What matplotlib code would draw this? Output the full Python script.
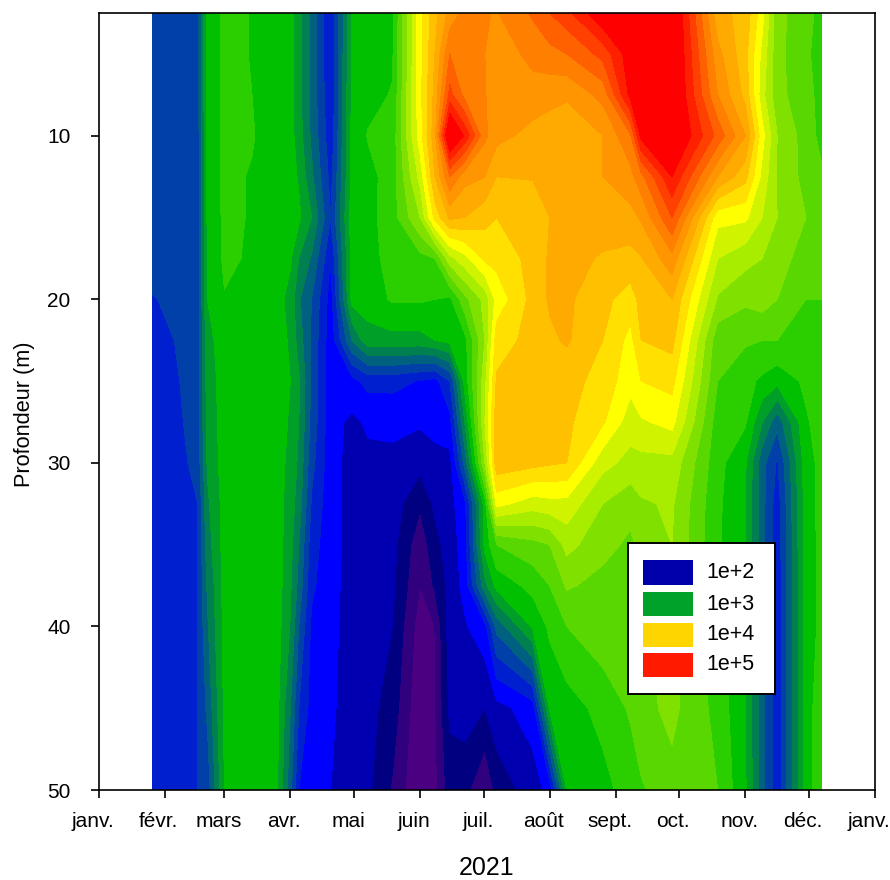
import numpy as np
import matplotlib
matplotlib.use('Agg')
import matplotlib.pyplot as plt
from matplotlib.patches import Rectangle
from matplotlib.transforms import ScaledTranslation

plt.rcParams['font.family'] = ['Liberation Sans', 'DejaVu Sans']

# sampling days (day of year 2021) and depths (m)
days = [25, 38, 46.5, 51, 59, 72, 84, 90, 94, 100, 109, 119, 126.5, 138, 151, 158, 165, 172,
        181.5, 187, 204, 212, 220, 237, 250, 255, 269.5, 291, 304, 312, 319, 332.5, 340]
depths = [2.5, 5, 7.5, 10, 12.5, 15, 17.5, 20, 22.5, 25, 27.5, 30, 32.5, 35, 37.5, 40, 45, 50]

# log10 abundance, one list per sampling day, top to bottom
d025 = [2.38, 2.38, 2.38, 2.38, 2.38, 2.38, 2.36, 2.29, 2.26, 2.24, 2.22, 2.22, 2.22, 2.22, 2.22, 2.22, 2.22, 2.22]
d038 = [2.36, 2.36, 2.36, 2.36, 2.36, 2.36, 2.36, 2.34, 2.31, 2.30, 2.28, 2.25, 2.24, 2.24, 2.24, 2.24, 2.24, 2.24]
d046 = [2.40, 2.40, 2.40, 2.38, 2.38, 2.38, 2.38, 2.38, 2.38, 2.38, 2.38, 2.36, 2.30, 2.30, 2.30, 2.30, 2.30, 2.30]
d051 = [2.95, 2.95, 2.95, 2.95, 2.95, 2.93, 2.90, 2.90, 2.85, 2.82, 2.80, 2.77, 2.72, 2.68, 2.62, 2.58, 2.48, 2.36]
d059 = [3.08, 3.08, 3.08, 3.08, 3.08, 3.08, 3.08, 3.04, 2.98, 2.97, 2.97, 2.97, 2.96, 2.96, 2.95, 2.95, 2.93, 2.90]
d072 = [3.045, 3.045, 3.05, 3.06, 3.04, 3.04, 3.03, 2.99, 2.98, 2.98, 2.98, 2.98, 2.98, 2.98, 2.98, 2.98, 2.98, 2.98]
d084 = [2.97, 2.97, 2.97, 2.97, 2.97, 2.97, 2.97, 2.95, 2.96, 2.97, 2.97, 2.97, 2.97, 2.97, 2.97, 2.96, 2.93, 2.90]
d090 = [2.95, 2.95, 2.95, 2.96, 2.97, 2.98, 2.92, 2.85, 2.88, 2.90, 2.88, 2.85, 2.82, 2.80, 2.77, 2.74, 2.60, 2.50]
d094 = [2.80, 2.80, 2.80, 2.82, 2.88, 2.93, 2.75, 2.62, 2.68, 2.77, 2.75, 2.72, 2.68, 2.60, 2.55, 2.45, 2.30, 2.15]
d100 = [2.55, 2.55, 2.55, 2.57, 2.63, 2.75, 2.58, 2.45, 2.42, 2.42, 2.40, 2.35, 2.28, 2.22, 2.18, 2.12, 2.09, 2.08]
d109 = [2.15, 2.15, 2.17, 2.20, 2.25, 2.30, 2.17, 2.08, 2.06, 2.05, 2.05, 2.05, 2.05, 2.05, 2.04, 2.03, 2.02, 2.00]
d119 = [2.93, 2.93, 2.93, 2.94, 2.94, 2.98, 2.95, 2.95, 2.60, 2.10, 1.97, 1.95, 1.95, 1.95, 1.95, 1.95, 1.94, 1.93]
d126 = [2.98, 2.99, 3.00, 3.06, 3.00, 3.00, 2.98, 2.96, 2.85, 2.20, 2.02, 1.97, 1.96, 1.95, 1.94, 1.92, 1.90, 1.88]
d138 = [3.02, 3.03, 3.06, 3.10, 3.12, 3.13, 3.12, 3.07, 2.85, 2.20, 2.03, 1.97, 1.93, 1.90, 1.88, 1.85, 1.78, 1.68]
d151 = [3.90, 3.90, 3.90, 3.88, 3.70, 3.50, 3.15, 3.07, 2.85, 2.14, 2.02, 1.90, 1.72, 1.60, 1.55, 1.47, 1.42, 1.40]
d158 = [4.20, 4.25, 4.30, 4.35, 4.25, 4.00, 3.20, 3.05, 2.90, 2.10, 2.03, 1.97, 1.88, 1.80, 1.72, 1.55, 1.53, 1.50]
d165 = [4.45, 4.70, 4.90, 5.45, 4.70, 4.28, 3.60, 3.02, 2.95, 2.30, 2.10, 1.95, 1.95, 1.92, 1.90, 1.93, 1.88, 1.78]
d172 = [4.60, 4.55, 4.65, 5.12, 4.45, 4.25, 3.75, 3.30, 3.00, 2.95, 2.75, 2.50, 2.10, 2.07, 2.05, 1.98, 1.92, 1.75]
d181 = [4.56, 4.55, 4.56, 4.58, 4.40, 4.15, 3.98, 3.55, 3.50, 3.60, 3.65, 3.50, 2.98, 2.95, 2.70, 2.10, 1.85, 1.55]
d187 = [4.54, 4.45, 4.45, 4.45, 4.25, 4.10, 4.00, 3.85, 4.03, 4.12, 4.20, 4.20, 3.85, 3.20, 2.95, 2.50, 1.95, 1.75]
d204 = [4.72, 4.60, 4.48, 4.35, 4.26, 4.15, 4.15, 4.15, 4.15, 4.15, 4.15, 4.15, 3.72, 3.30, 3.10, 2.92, 2.07, 1.93]
d212 = [4.85, 4.65, 4.45, 4.32, 4.28, 4.25, 4.27, 4.27, 4.22, 4.17, 4.15, 4.12, 3.75, 3.35, 3.20, 3.08, 2.92, 2.05]
d220 = [4.95, 4.70, 4.42, 4.30, 4.30, 4.27, 4.28, 4.28, 4.27, 4.15, 4.13, 4.10, 3.75, 3.55, 3.37, 3.20, 2.98, 2.90]
d237 = [5.30, 4.90, 4.60, 4.40, 4.40, 4.30, 4.24, 4.14, 4.10, 4.05, 3.97, 3.70, 3.50, 3.40, 3.30, 3.30, 3.10, 3.00]
d250 = [5.40, 5.25, 5.20, 4.68, 4.50, 4.35, 4.20, 4.03, 3.90, 3.85, 3.72, 3.60, 3.40, 3.32, 3.28, 3.25, 3.22, 3.12]
d255 = [5.50, 5.50, 5.50, 5.20, 4.65, 4.42, 4.24, 4.15, 4.10, 3.95, 3.78, 3.60, 3.48, 3.40, 3.35, 3.30, 3.30, 3.18]
d269 = [5.40, 5.40, 5.40, 5.40, 5.15, 4.85, 4.50, 4.25, 4.15, 4.00, 3.85, 3.60, 3.52, 3.50, 3.45, 3.42, 3.39, 3.30]
d291 = [4.30, 4.45, 4.55, 4.80, 4.40, 3.85, 3.65, 3.48, 3.25, 3.20, 3.12, 3.10, 3.08, 3.07, 3.06, 3.10, 3.15, 3.20]
d304 = [4.20, 4.15, 4.20, 4.40, 4.15, 3.83, 3.55, 3.38, 3.22, 3.10, 3.07, 2.92, 2.90, 2.90, 2.90, 2.90, 2.90, 2.92]
d312 = [3.85, 3.75, 3.70, 3.85, 3.75, 3.65, 3.50, 3.42, 3.20, 3.02, 2.75, 2.50, 2.50, 2.50, 2.50, 2.50, 2.50, 2.50]
d319 = [3.40, 3.40, 3.40, 3.50, 3.48, 3.50, 3.42, 3.35, 3.20, 2.95, 2.50, 2.28, 2.22, 2.20, 2.20, 2.20, 2.20, 2.20]
d332 = [3.25, 3.22, 3.25, 3.28, 3.30, 3.35, 3.28, 3.20, 3.15, 3.08, 3.03, 2.98, 2.97, 2.96, 2.95, 2.95, 2.95, 2.95]
d340 = [3.15, 3.15, 3.15, 3.15, 3.22, 3.25, 3.22, 3.20, 3.18, 3.15, 3.12, 3.10, 3.10, 3.10, 3.10, 3.10, 3.18, 3.20]

columns = [d025, d038, d046, d051, d059, d072, d084, d090, d094, d100, d109, d119, d126, d138, d151, d158, d165,
           d172, d181, d187, d204, d212, d220, d237, d250, d255, d269, d291, d304, d312, d319, d332, d340]

month_days = [0, 31, 59, 90, 120, 151, 181, 212, 243, 273, 304, 334, 365]
month_labels = ['janv.', 'févr.', 'mars', 'avr.', 'mai', 'juin', 'juil.', 'août',
                'sept.', 'oct.', 'nov.', 'déc.', 'janv.']
depth_ticks = [10, 20, 30, 40, 50]

legend_labels = ['1e+2', '1e+3', '1e+4', '1e+5']
legend_colors = ['#0000aa', '#00a22a', '#ffd500', '#ff1a00']

# contour bands, 0.15 log10 wide, lowest to highest (last one open ended)
band_colors = ['#4b0082', '#30007e', '#000080', '#0000b0', '#0000ff', '#0020d0', '#0040a8',
               '#006080', '#008050', '#00a028', '#00c000', '#2bcf00', '#58d800', '#80e000',
               '#a8ec00', '#d0f400', '#ffff00', '#ffe000', '#ffc000', '#ffaa00', '#ff9500',
               '#ff8000', '#ff6000', '#ff4000', '#ff2000', '#ff0000']
levels = list(1.4 + 0.15 * np.arange(26)) + [6.5]

z = np.array(columns).T

fig = plt.figure(figsize=(8.9, 8.8), dpi=100)
ax = fig.add_axes([99 / 890, 1 - 790 / 880, 776 / 890, 777 / 880])

ax.contourf(days, depths, z, levels=levels, colors=band_colors)

ax.set_xlim(0, 365)
ax.set_ylim(50, 2.5)
ax.set_xticks(month_days)
ax.set_xticklabels(month_labels)
ax.set_yticks(depth_ticks)
ax.tick_params(axis='x', labelsize=15, length=5.5, width=1.2, pad=10)
ax.tick_params(axis='y', labelsize=15, length=5.5, width=1.2, pad=15)
shift = ScaledTranslation(-6 / 100, 0, fig.dpi_scale_trans)
for lab in ax.get_xticklabels():
    lab.set_transform(lab.get_transform() + shift)
for s in ax.spines.values():
    s.set_linewidth(1.2)
    s.set_zorder(5)
ax.set_xlabel('2021', fontsize=18, va='center')
ax.set_ylabel('Profondeur (m)', fontsize=15.7, va='center')
ax.xaxis.set_label_coords(0.5, -78 / 777)
ax.yaxis.set_label_coords(-74 / 776, 376 / 777)


# legend box, placed in reference pixels
def px(x, y):
    return (x - 99) / 776, (790 - y) / 777


x0, y0 = px(628, 694)
ax.add_patch(Rectangle((x0, y0), 147 / 776, 151 / 777, transform=ax.transAxes, facecolor='white',
                       edgecolor='black', linewidth=1.4, zorder=6))
for c, lab, top, h in zip(legend_colors, legend_labels, [560, 592, 623, 653], [25, 24, 24, 24]):
    x1, y1 = px(643, top + h)
    ax.add_patch(Rectangle((x1, y1), 50 / 776, h / 777, transform=ax.transAxes, facecolor=c,
                           edgecolor='none', zorder=7))
    tx, ty = px(706, top + h / 2)
    ax.text(tx, ty, lab, transform=ax.transAxes, fontsize=15.5, va='center', ha='left', zorder=7)

fig.savefig('out.png', dpi=100)
